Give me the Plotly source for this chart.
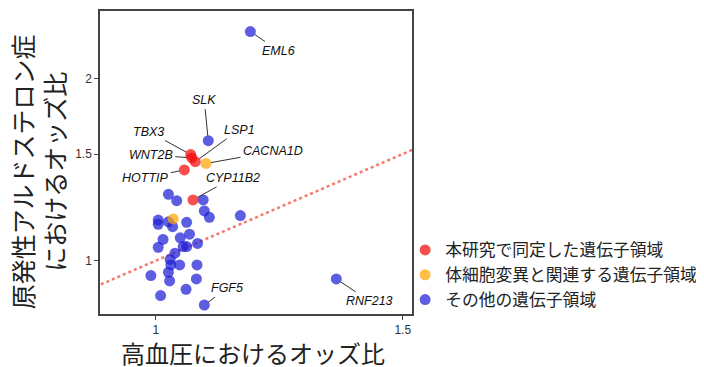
import numpy as np
import plotly.graph_objects as go

# ---- data ----
# "other" gene regions (blue)
other_names = ["EML6", "SLK", "", "", "", "", "", "", "", "", "", "", "", "", "", "",
               "", "", "", "", "", "", "", "", "", "", "", "", "", "", "", "FGF5", "RNF213"]
other_ht = [1.168, 1.090, 1.021, 1.035, 1.081, 1.083, 1.092, 1.149, 1.004, 1.004, 1.028,
            1.021, 1.052, 1.057, 1.012, 1.041, 1.004, 1.046, 1.052, 1.071, 1.032, 1.024,
            1.025, 1.040, 1.070, 1.021, 0.992, 1.023, 1.069, 1.051, 1.008, 1.083, 1.345]
other_pa = [2.389, 1.578, 1.287, 1.256, 1.260, 1.208, 1.179, 1.187, 1.167, 1.148, 1.138,
            1.159, 1.157, 1.106, 1.084, 1.091, 1.052, 1.055, 1.055, 1.068, 1.029, 1.005,
            0.984, 0.984, 0.984, 0.957, 0.945, 0.926, 0.933, 0.897, 0.876, 0.845, 0.933]

# regions identified in this study (red)
study_names = ["TBX3", "WNT2B", "LSP1", "HOTTIP", "CYP11B2"]
study_ht = [1.059, 1.061, 1.067, 1.048, 1.063]
study_pa = [1.497, 1.478, 1.457, 1.412, 1.260]

# regions linked to somatic mutations (orange)
somatic_names = ["CACNA1D", ""]
somatic_ht = [1.086, 1.029]
somatic_pa = [1.447, 1.172]

# identity (y = x) reference line
identity = [0.85, 1.6]

x_ticks = [1, 1.5]
y_ticks = [1, 1.5, 2]

legend_labels = ["本研究で同定した遺伝子領域", "体細胞変異と関連する遺伝子領域", "その他の遺伝子領域"]

# ---- styling ----
JP = "Noto Sans CJK JP"
LAT = "Liberation Sans, Arial"
label_offsets = {
    "EML6": (28, 19), "SLK": (-4, -41), "FGF5": (23, -17), "RNF213": (33, 22),
    "TBX3": (-42, -23), "WNT2B": (-41, -3), "LSP1": (44, -32), "HOTTIP": (-39, 8),
    "CYP11B2": (40, -22), "CACNA1D": (67, -12),
}

fig = go.Figure()
fig.add_trace(go.Scatter(x=identity, y=identity, mode="lines", showlegend=False,
                         hoverinfo="skip",
                         line=dict(color="#F4796B", dash="dot", width=2.5)))
fig.add_trace(go.Scatter(x=other_ht, y=other_pa, mode="markers", name=legend_labels[2],
                         legendrank=3, legendgroup="c",
                         marker=dict(color="rgb(30,30,215)", opacity=0.72, size=11,
                                     line=dict(width=0))))
fig.add_trace(go.Scatter(x=somatic_ht, y=somatic_pa, mode="markers", name=legend_labels[1],
                         legendrank=2, legendgroup="b",
                         marker=dict(color="rgb(255,165,0)", opacity=0.72, size=11,
                                     line=dict(width=0))))
fig.add_trace(go.Scatter(x=study_ht, y=study_pa, mode="markers", name=legend_labels[0],
                         legendrank=1, legendgroup="a",
                         marker=dict(color="rgb(245,10,10)", opacity=0.72, size=11,
                                     line=dict(width=0))))

annotations = []
for names, xs, ys in [(other_names, other_ht, other_pa),
                      (study_names, study_ht, study_pa),
                      (somatic_names, somatic_ht, somatic_pa)]:
    for n, xv, yv in zip(names, xs, ys):
        if not n:
            continue
        ax, ay = label_offsets[n]
        annotations.append(dict(
            x=np.log10(xv), y=np.log10(yv), xref="x", yref="y", text=f"<i>{n}</i>",
            showarrow=True, arrowhead=0, arrowwidth=1, arrowcolor="#333",
            ax=ax, ay=ay, standoff=5, startstandoff=1,
            font=dict(family=LAT, size=12.5, color="#111")))

annotations.append(dict(
    x=0.49, y=-0.128, xref="paper", yref="paper", xanchor="center", yanchor="middle",
    text="高血圧におけるオッズ比", showarrow=False,
    font=dict(family=JP, size=24, color="#222")))
annotations.append(dict(
    x=-0.197, y=0.47, xref="paper", yref="paper", xanchor="center", yanchor="middle",
    text="原発性アルドステロン症<br>におけるオッズ比", showarrow=False, textangle=-90,
    font=dict(family=JP, size=25, color="#222")))

# the page body adds an 8px margin, so the figure is drawn 8px smaller and offset
fig.update_layout(
    width=696, height=359,
    margin=dict(l=92, r=292, t=3, b=53, autoexpand=False),
    paper_bgcolor="white", plot_bgcolor="white",
    annotations=annotations,
    shapes=[
        dict(type="line", xref="x", yref="paper", x0=np.log10(1.0), x1=np.log10(1.0),
             y0=0, y1=1, line=dict(color="#d9d9d9", width=1), layer="below"),
        dict(type="line", xref="paper", yref="y", x0=0, x1=1, y0=np.log10(1.0),
             y1=np.log10(1.0), line=dict(color="#d9d9d9", width=1), layer="below"),
    ],
    legend=dict(x=0.978, y=0.269, xanchor="left", yanchor="top",
                font=dict(family=JP, size=16.8, color="#222"),
                bgcolor="rgba(0,0,0,0)", itemwidth=30, tracegroupgap=0),
    showlegend=True,
)
fig.update_xaxes(type="log", range=[np.log10(0.9125), np.log10(1.523)],
                 tickvals=x_ticks, ticktext=[str(v) for v in x_ticks],
                 showgrid=False, zeroline=False, showline=True, mirror=True,
                 linecolor="#444", linewidth=1.5, ticks="outside", ticklen=4,
                 tickcolor="#444", tickfont=dict(family=LAT, size=12, color="#333"))
fig.update_yaxes(type="log", range=[np.log10(0.8166), np.log10(2.583)],
                 tickvals=y_ticks, ticktext=[str(v) for v in y_ticks],
                 showgrid=False, zeroline=False, showline=True, mirror=True,
                 linecolor="#444", linewidth=1.5, ticks="outside", ticklen=4,
                 tickcolor="#444", tickfont=dict(family=LAT, size=12, color="#333"))

fig.write_html("out.html")
